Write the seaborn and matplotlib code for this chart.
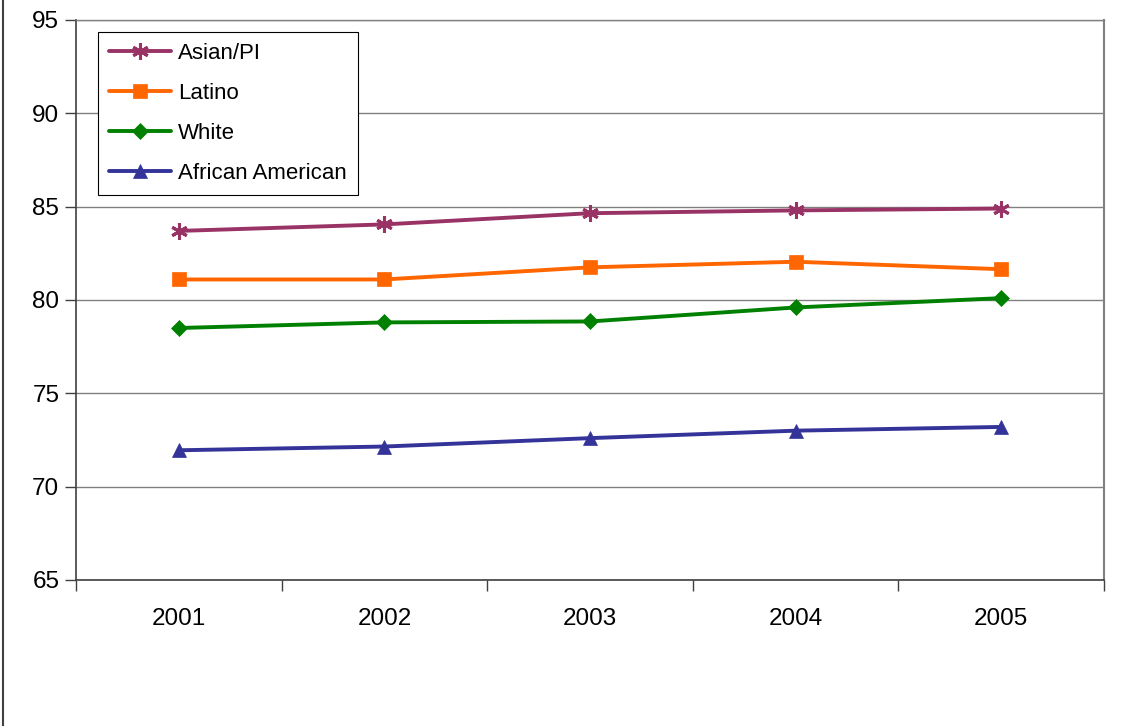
import pandas as pd
import matplotlib.pyplot as plt
import seaborn as sns
from matplotlib.lines import Line2D

years = ['2001', '2002', '2003', '2004', '2005']
groups = ['Asian/PI', 'Latino', 'White', 'African American']
asian = [83.7, 84.05, 84.65, 84.8, 84.9]
latino = [81.1, 81.1, 81.75, 82.05, 81.65]
white = [78.5, 78.8, 78.85, 79.6, 80.1]
african = [71.95, 72.15, 72.6, 73.0, 73.2]

colors = {'Asian/PI': '#993366', 'Latino': '#FF6600', 'White': '#008000', 'African American': '#333399'}
markers = {'Asian/PI': (6, 2, 0), 'Latino': 's', 'White': 'D', 'African American': '^'}
msizes = {'Asian/PI': 12, 'Latino': 9.5, 'White': 8.5, 'African American': 10}
medge = {'Asian/PI': 2.2, 'Latino': 0.5, 'White': 0.5, 'African American': 0.5}

rows = []
for g, vals in zip(groups, [asian, latino, white, african]):
    for i, v in enumerate(vals):
        rows.append({'pos': i, 'year': years[i], 'group': g, 'value': v})
df = pd.DataFrame(rows)

sns.set_style('white')
plt.rcParams['font.family'] = ['Liberation Sans', 'DejaVu Sans']

fig = plt.figure(figsize=(11.23, 7.26), dpi=100)
ax = fig.add_axes([76 / 1123, 1 - 580 / 726, 1028 / 1123, 560 / 726])

for g in groups:
    sub = df[df['group'] == g]
    sns.lineplot(data=sub, x='pos', y='value', ax=ax, color=colors[g], linewidth=2.8,
                 marker=markers[g], markersize=msizes[g], markeredgecolor=colors[g],
                 markeredgewidth=medge[g], label=g, legend=False)

ax.set_xlim(-0.5, 4.5)
ax.set_ylim(65, 95)
ax.set_yticks(range(65, 96, 5))
ax.set_xticks(range(5))
ax.set_xticklabels(years)
ax.set_xticks([-0.5 + i for i in range(6)], minor=True)
ax.tick_params(bottom=True, left=True, which='both')
ax.tick_params(axis='x', which='major', length=0, pad=20, labelsize=17.5, labelcolor='black')
ax.tick_params(axis='x', which='minor', length=8, width=1, color='#404040', direction='out')
ax.tick_params(axis='y', length=8, width=1, color='#404040', direction='out', pad=4,
               labelsize=17.5, labelcolor='black')
ax.set_xlabel('')
ax.set_ylabel('')
ax.yaxis.grid(True, color='#808080', linewidth=1)
ax.set_axisbelow(True)

for s in ['left', 'bottom']:
    ax.spines[s].set_color('#404040')
    ax.spines[s].set_linewidth(1.2)
ax.spines['right'].set_color('#808080')
ax.spines['right'].set_linewidth(1.5)
ax.spines['top'].set_color('#808080')
ax.spines['top'].set_linewidth(1)

handles = [Line2D([], [], color=colors[g], linewidth=2.8, marker=markers[g], markersize=msizes[g],
                  markeredgecolor=colors[g], markeredgewidth=medge[g])
           for g in groups]
leg = ax.legend(handles, groups, loc='upper left', bbox_to_anchor=(22 / 1028, 1 - 12 / 560),
                fontsize=16, frameon=True, fancybox=False, framealpha=1, edgecolor='black',
                handlelength=2.8, labelspacing=0.85, borderpad=0.5, handletextpad=0.3,
                borderaxespad=0)
leg.get_frame().set_linewidth(0.8)
for t in leg.get_texts():
    t.set_color('black')

fig.add_artist(Line2D([3 / 1123, 3 / 1123], [0, 1], color='#404040', linewidth=1.5))

fig.savefig('out.png', dpi=100)
